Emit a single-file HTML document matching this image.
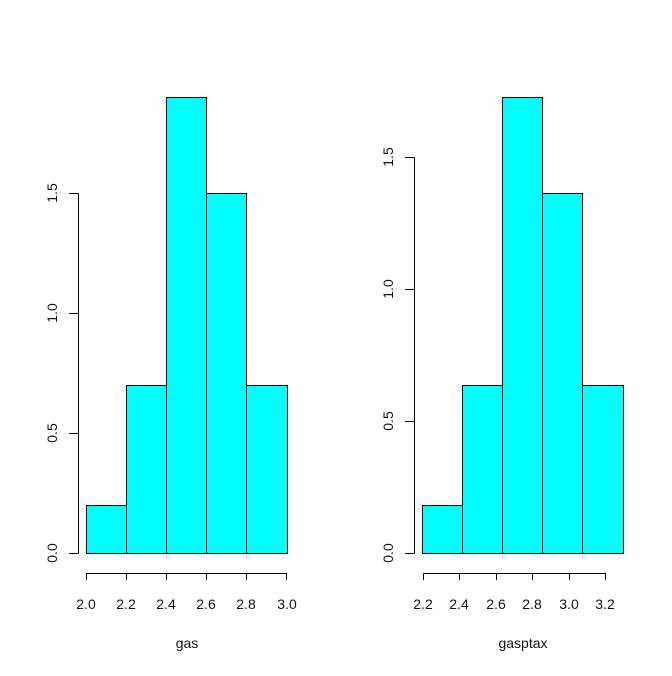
<!DOCTYPE html><html><head><style>body{margin:0;background:#fff}</style></head><body>
<svg width="672" height="671" xmlns="http://www.w3.org/2000/svg" font-family="Liberation Sans, sans-serif" font-size="14" fill="#111">
<g stroke="#000" stroke-width="1" fill="#00ffff">
<rect x="86.5" y="505.5" width="40" height="48"/>
<rect x="126.5" y="385.5" width="40" height="168"/>
<rect x="166.5" y="97.5" width="40" height="456"/>
<rect x="206.5" y="193.5" width="40" height="360"/>
<rect x="246.5" y="385.5" width="41" height="168"/>
<rect x="422.5" y="505.5" width="40" height="48"/>
<rect x="462.5" y="385.5" width="40" height="168"/>
<rect x="502.5" y="97.5" width="40" height="456"/>
<rect x="542.5" y="193.5" width="40" height="360"/>
<rect x="582.5" y="385.5" width="41" height="168"/>
</g>
<g stroke="#000" fill="none">
<path d="M78.5 553.5V193.5M69 553.5H78.5M69 433.5H78.5M69 313.5H78.5M69 193.5H78.5"/>
<path d="M86.5 580V573.5H286.5V580M126.5 573.5V580M166.5 573.5V580M206.5 573.5V580M246.5 573.5V580"/>
<path d="M414.5 553.5V157.5M405 553.5H414.5M405 421.5H414.5M405 289.5H414.5M405 157.5H414.5"/>
<path d="M423.5 580V573.5H605.5V580M459.5 573.5V580M496.5 573.5V580M532.5 573.5V580M569.5 573.5V580"/>
</g>
<g text-anchor="middle">
<text x="86" y="609">2.0</text><text x="126" y="609">2.2</text><text x="166" y="609">2.4</text><text x="206" y="609">2.6</text><text x="246" y="609">2.8</text><text x="287" y="609">3.0</text>
<text x="423" y="609">2.2</text><text x="459" y="609">2.4</text><text x="496" y="609">2.6</text><text x="532" y="609">2.8</text><text x="569" y="609">3.0</text><text x="605" y="609">3.2</text>
<text x="187" y="648">gas</text><text x="523" y="648">gasptax</text>
<text transform="translate(57,553) rotate(-90)">0.0</text>
<text transform="translate(57,433) rotate(-90)">0.5</text>
<text transform="translate(57,313) rotate(-90)">1.0</text>
<text transform="translate(57,193) rotate(-90)">1.5</text>
<text transform="translate(393,553) rotate(-90)">0.0</text>
<text transform="translate(393,421) rotate(-90)">0.5</text>
<text transform="translate(393,289) rotate(-90)">1.0</text>
<text transform="translate(393,157) rotate(-90)">1.5</text>
</g>
</svg></body></html>
